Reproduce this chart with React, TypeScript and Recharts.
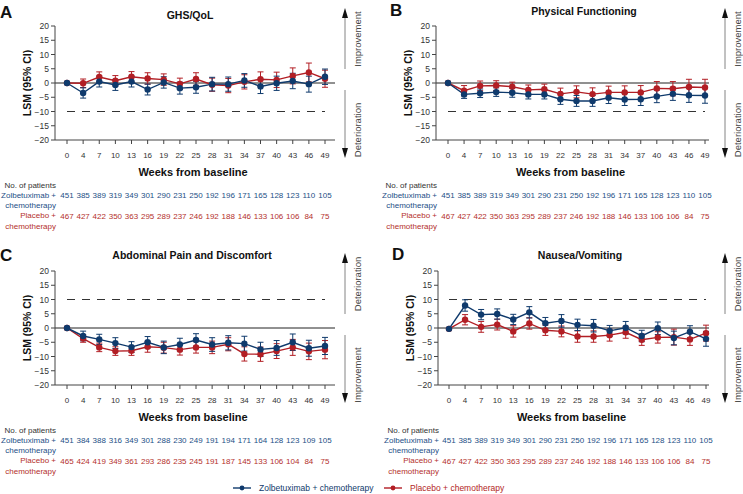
import React from "react";
import { LineChart, Line, XAxis, YAxis, ReferenceLine, ErrorBar } from "recharts";

const weeks = ["0", "4", "7", "10", "13", "16", "19", "22", "25", "28", "31", "34", "37", "40", "43", "46", "49"];

// A: GHS/QoL
const ghsZolb = [0, -3.5, 0.5, -0.7, 0.5, -2.3, 0.2, -1.8, -1.5, -0.4, -0.4, 0.9, -1.2, -0.1, 0.7, -0.4, 2.2];
const ghsZolbCi = [0, 1.8, 1.9, 1.9, 1.9, 1.9, 2.0, 2.1, 2.1, 2.4, 2.5, 2.4, 2.5, 2.5, 2.7, 2.8, 2.7];
const ghsPlac = [0, -0.1, 2.1, 0.8, 2.2, 1.6, 1.2, -0.3, 1.4, -0.6, -0.9, 0.4, 1.3, 1.1, 2.5, 3.7, 1.5];
const ghsPlacCi = [0, 1.5, 1.8, 1.8, 1.8, 2.0, 2.0, 2.0, 2.2, 2.3, 2.5, 2.5, 2.6, 2.7, 2.8, 3.3, 3.0];

// B: Physical Functioning
const pfZolb = [0, -4, -3.6, -3.2, -3.4, -4, -4, -5.7, -6.3, -6.3, -5.2, -5.8, -5.7, -4.7, -3.8, -4.3, -4.4];
const pfZolbCi = [0, 1.4, 1.5, 1.5, 1.6, 1.6, 1.6, 1.8, 1.9, 1.9, 2.0, 2.1, 2.2, 2.2, 2.3, 2.5, 2.7];
const pfPlac = [0, -2.7, -1, -0.9, -1.3, -2.4, -2.2, -3.8, -3.1, -3.9, -3.3, -3.3, -3.3, -1.9, -2, -1.4, -1.6];
const pfPlacCi = [0, 1.8, 1.7, 1.7, 1.6, 1.7, 1.8, 2.0, 2.1, 2.2, 2.2, 2.3, 2.4, 2.4, 2.5, 2.7, 2.9];

// C: Abdominal Pain and Discomfort
const apZolb = [0, -2.8, -4, -5.3, -6.7, -5, -6.8, -5.8, -4.2, -5.8, -5.2, -5.5, -7.5, -7, -5, -7.1, -6.3];
const apZolbCi = [0, 1.7, 1.8, 1.9, 1.9, 2.0, 2.2, 2.2, 2.2, 2.4, 2.5, 2.6, 2.5, 2.6, 2.9, 2.8, 3.0];
const apPlac = [0, -3.7, -6.8, -8.1, -8, -6.6, -6.9, -7.6, -6.8, -6.8, -5.7, -9.1, -9.2, -8.1, -6.8, -8.2, -7.6];
const apPlacCi = [0, 1.3, 1.5, 1.5, 1.6, 1.9, 1.9, 1.9, 2.0, 2.2, 2.3, 2.5, 2.5, 2.6, 2.8, 2.9, 3.2];

// D: Nausea/Vomiting
const nvZolb = [-0.3, 7.9, 4.7, 4.9, 3, 5.5, 1.7, 2.5, 1.1, 0.8, -1, 0.1, -2.8, -0.1, -3.5, -1.3, -3.8];
const nvZolbCi = [0, 2.0, 1.8, 1.8, 1.8, 2.0, 2.0, 2.2, 2.0, 2.2, 1.9, 2.2, 2.0, 2.2, 2.4, 2.1, 2.6];
const nvPlac = [-0.3, 2.9, 0.4, 1.2, -1.2, 1.6, -0.8, -1.2, -3, -3, -2.5, -1.5, -4.1, -3.3, -3.2, -4, -1.8];
const nvPlacCi = [0, 1.8, 1.9, 1.9, 2.0, 2.0, 1.8, 1.9, 2.0, 2.0, 2.1, 2.1, 2.0, 2.0, 2.8, 2.1, 2.8];

// patients at risk
const zolbN = [451, 385, 389, 319, 349, 301, 290, 231, 250, 192, 196, 171, 165, 128, 123, 110, 105];
const placN = [467, 427, 422, 350, 363, 295, 289, 237, 246, 192, 188, 146, 133, 106, 106, 84, 75];
const zolbNAp = [451, 384, 388, 316, 349, 301, 288, 230, 249, 191, 194, 171, 164, 128, 123, 109, 105];
const placNAp = [465, 424, 419, 349, 361, 293, 286, 235, 245, 191, 187, 145, 133, 106, 104, 84, 75];

const yTicks = [-20, -15, -10, -5, 0, 5, 10, 15, 20];

const BLUE = "#0f3a6c";
const RED = "#b21e24";
const BLUE_TXT = "#244f86";
const RED_TXT = "#b4302c";
const AXIS = "#444";
const FONT = "'Liberation Sans', Arial, sans-serif";
const SMALL = 8;

const fmt = (v: number) => (v < 0 ? "\u2212" + Math.abs(v) : String(v));

type PanelProps = {
  left: number;
  top: number;
  letter: string;
  letterX: number;
  letterY: number;
  title: string;
  titleX: number;
  titleY: number;
  plotLeft: number;
  plotRight: number;
  padL: number;
  padR: number;
  refY: number;
  upLabel: string;
  downLabel: string;
  arrowX: number;
  zolb: number[];
  zolbCi: number[];
  plac: number[];
  placCi: number[];
  zN: number[];
  pN: number[];
};

function Panel(p: PanelProps) {
  const data = weeks.map((w, i) => ({
    week: w,
    zolb: p.zolb[i],
    zolbCi: p.zolbCi[i],
    plac: p.plac[i],
    placCi: p.placCi[i],
  }));
  const W = 372;
  const H = 240;
  const yAxisW = 40;
  const renderTick = (props: any) => {
    const { x, y, payload } = props;
    const i = weeks.indexOf(String(payload.value));
    return (
      <g fontFamily={FONT} fontSize={SMALL} textAnchor="middle">
        <text x={x} y={y + 12} fill="#333">{payload.value}</text>
        <text x={x} y={y + 52} fill={BLUE_TXT}>{p.zN[i]}</text>
        <text x={x} y={y + 73} fill={RED_TXT}>{p.pN[i]}</text>
      </g>
    );
  };
  const rl = p.plotLeft + 1;
  const tx = p.arrowX + 12;
  return (
    <div style={{ position: "absolute", left: p.left, top: p.top, width: W, height: H }}>
      <LineChart
        width={W}
        height={H}
        data={data}
        margin={{ top: 26, right: W - p.plotRight, bottom: 70, left: p.plotLeft - yAxisW }}
      >
        <XAxis
          dataKey="week"
          type="category"
          interval={0}
          height={30}
          padding={{ left: p.padL, right: p.padR }}
          tickSize={4}
          tickMargin={2}
          axisLine={{ stroke: AXIS }}
          tickLine={{ stroke: AXIS }}
          tick={renderTick}
        />
        <YAxis
          domain={[-20, 20]}
          ticks={yTicks}
          width={yAxisW}
          interval={0}
          tickSize={4}
          tickMargin={2}
          tickFormatter={fmt}
          axisLine={{ stroke: AXIS }}
          tickLine={{ stroke: AXIS }}
          tick={{ fontSize: 8.5, fill: "#333", fontFamily: FONT }}
        />
        <ReferenceLine y={0} stroke="#222" strokeWidth={1} />
        <ReferenceLine
          segment={[{ x: "0", y: p.refY }, { x: "49", y: p.refY }]}
          stroke="#333"
          strokeDasharray="8 7"
          strokeWidth={1}
        />
        <Line
          dataKey="plac"
          stroke={RED}
          strokeWidth={1.4}
          dot={{ r: 3.2, fill: RED, stroke: RED, strokeWidth: 0 }}
          isAnimationActive={false}
        >
          <ErrorBar dataKey="placCi" width={3} stroke={RED} strokeWidth={1} direction="y" isAnimationActive={false} />
        </Line>
        <Line
          dataKey="zolb"
          stroke={BLUE}
          strokeWidth={1.4}
          dot={{ r: 3.2, fill: BLUE, stroke: BLUE, strokeWidth: 0 }}
          isAnimationActive={false}
        >
          <ErrorBar dataKey="zolbCi" width={3} stroke={BLUE} strokeWidth={1} direction="y" isAnimationActive={false} />
        </Line>
      </LineChart>
      <svg
        width={W}
        height={H}
        style={{ position: "absolute", left: 0, top: 0, pointerEvents: "none", overflow: "visible" }}
        fontFamily={FONT}
      >
        <text x={p.letterX} y={p.letterY} fontSize={17} fontWeight="bold" fill="#111" dominantBaseline="central">
          {p.letter}
        </text>
        <text x={p.titleX} y={p.titleY} fontSize={10.5} fontWeight="bold" fill="#111" textAnchor="middle" dominantBaseline="central">
          {p.title}
        </text>
        <text
          transform={`translate(${p.plotLeft - 28},83) rotate(-90)`}
          fontSize={10.5}
          fontWeight="bold"
          fill="#111"
          textAnchor="middle"
          dominantBaseline="central"
        >
          LSM (95% CI)
        </text>
        <text x={(p.plotLeft + p.plotRight) / 2 - 2} y={172} fontSize={11} fontWeight="bold" fill="#111" textAnchor="middle" dominantBaseline="central">
          Weeks from baseline
        </text>
        <g fontSize={SMALL} textAnchor="end" dominantBaseline="central">
          <text x={rl} y={185} fill="#333">No. of patients</text>
          <text x={rl} y={195.5} fill={BLUE_TXT}>Zolbetuximab +</text>
          <text x={rl} y={205.5} fill={BLUE_TXT}>chemotherapy</text>
          <text x={rl} y={215.7} fill={RED_TXT}>Placebo +</text>
          <text x={rl} y={226} fill={RED_TXT}>chemotherapy</text>
        </g>
        <line x1={p.arrowX} y1={16} x2={p.arrowX} y2={69} stroke="#666" strokeWidth={0.8} />
        <polygon points={`${p.arrowX},8 ${p.arrowX - 3},18 ${p.arrowX + 3},18`} fill="#111" />
        <line x1={p.arrowX} y1={90} x2={p.arrowX} y2={150} stroke="#666" strokeWidth={0.8} />
        <polygon points={`${p.arrowX},158 ${p.arrowX - 3},148 ${p.arrowX + 3},148`} fill="#111" />
        <text
          transform={`translate(${tx},39) rotate(-90)`}
          fontSize={9.5}
          fill="#444"
          textAnchor="middle"
          dominantBaseline="central"
        >
          {p.upLabel}
        </text>
        <text
          transform={`translate(${tx},130) rotate(-90)`}
          fontSize={9.5}
          fill="#444"
          textAnchor="middle"
          dominantBaseline="central"
        >
          {p.downLabel}
        </text>
      </svg>
    </div>
  );
}

function LegendItem({ x, color, label }: { x: number; color: string; label: string }) {
  return (
    <g>
      <line x1={x} y1={488} x2={x + 18} y2={488} stroke={color} strokeWidth={1.4} />
      <circle cx={x + 9} cy={488} r={2.4} fill={color} />
      <text x={x + 26} y={488} fontSize={8.5} fill={color} dominantBaseline="central" fontFamily={FONT}>
        {label}
      </text>
    </g>
  );
}

export default function App() {
  return (
    <div style={{ position: "relative", width: 743, height: 494, background: "#fff", fontFamily: FONT, overflow: "hidden" }}>
      <style>{"body{margin:0}"}</style>
      <Panel
        left={0}
        top={0}
        letter="A"
        letterX={0}
        letterY={12}
        title="GHS/QoL"
        titleX={190}
        titleY={15}
        plotLeft={55}
        plotRight={335}
        padL={12}
        padR={10}
        refY={-10}
        upLabel="Improvement"
        downLabel="Deterioration"
        arrowX={345}
        zolb={ghsZolb}
        zolbCi={ghsZolbCi}
        plac={ghsPlac}
        placCi={ghsPlacCi}
        zN={zolbN}
        pN={placN}
      />
      <Panel
        left={372}
        top={0}
        letter="B"
        letterX={18}
        letterY={10}
        title="Physical Functioning"
        titleX={212}
        titleY={11}
        plotLeft={64}
        plotRight={337}
        padL={12}
        padR={4}
        refY={-10}
        upLabel="Improvement"
        downLabel="Deterioration"
        arrowX={353}
        zolb={pfZolb}
        zolbCi={pfZolbCi}
        plac={pfPlac}
        placCi={pfPlacCi}
        zN={zolbN}
        pN={placN}
      />
      <Panel
        left={0}
        top={245}
        letter="C"
        letterX={0}
        letterY={10}
        title="Abdominal Pain and Discomfort"
        titleX={192}
        titleY={10}
        plotLeft={55}
        plotRight={335}
        padL={12}
        padR={10}
        refY={10}
        upLabel="Deterioration"
        downLabel="Improvement"
        arrowX={345}
        zolb={apZolb}
        zolbCi={apZolbCi}
        plac={apPlac}
        placCi={apPlacCi}
        zN={zolbNAp}
        pN={placNAp}
      />
      <Panel
        left={372}
        top={245}
        letter="D"
        letterX={20}
        letterY={9}
        title="Nausea/Vomiting"
        titleX={208}
        titleY={10}
        plotLeft={66}
        plotRight={337}
        padL={11}
        padR={3}
        refY={10}
        upLabel="Deterioration"
        downLabel="Improvement"
        arrowX={353}
        zolb={nvZolb}
        zolbCi={nvZolbCi}
        plac={nvPlac}
        placCi={nvPlacCi}
        zN={zolbN}
        pN={placN}
      />
      <svg width={743} height={494} style={{ position: "absolute", left: 0, top: 0, pointerEvents: "none" }}>
        <LegendItem x={233} color={BLUE} label="Zolbetuximab + chemotherapy" />
        <LegendItem x={384} color={RED} label="Placebo + chemotherapy" />
      </svg>
    </div>
  );
}
